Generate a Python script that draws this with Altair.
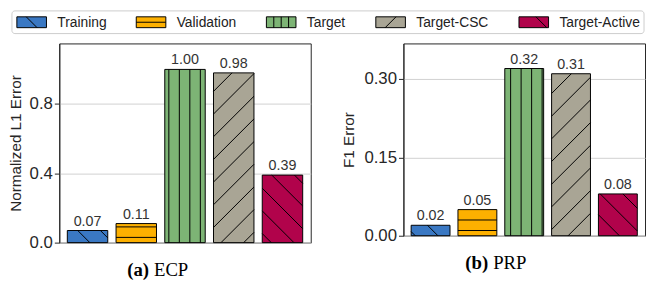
import altair as alt
import pandas as pd

# ---------------- data ----------------
series = ["Training", "Validation", "Target", "Target-CSC", "Target-Active"]
colors = ["#3a78c3", "#fdb000", "#7db475", "#a9a595", "#b1034b"]
hatch_kinds = ["\\", "-", "|", "/", "\\"]
ecp_values = [0.07, 0.11, 1.00, 0.98, 0.39]
prp_values = [0.02, 0.05, 0.32, 0.31, 0.08]
ecp_ticks = [0.0, 0.4, 0.8]
prp_ticks = [0.0, 0.15, 0.30]
ecp_ymax = 1.15
prp_ymax = 0.368
y_titles = ["Normalized L1 Error", "F1 Error"]
caption_tags = ["(a)", "(b)"]
caption_names = ["ECP", "PRP"]

# ---------------- layout constants ----------------
XMIN, XMAX = -0.58, 4.58
HALF = 0.415
ORTHO = 10.65
DIAG = 23.0
FONT = "Liberation Sans"
SERIF = "Liberation Serif"
INK = "#262626"
TITLE_FS = 15.5

# Helvetica advance widths (1/1000 em) used to lay out the legend row
HELV = {"T": 611, "r": 333, "a": 556, "i": 222, "n": 556, "g": 556, "V": 667,
        "l": 222, "d": 556, "t": 278, "o": 556, "e": 556, "-": 333, "C": 722,
        "S": 667, "A": 667, "c": 500, "v": 500}


def text_w(s, size):
    return sum(HELV.get(ch, 556) for ch in s) / 1000.0 * size


def hatch_rows(values, ymax, W, H, phases):
    rows = []
    sx = W / (XMAX - XMIN)
    sy = H / ymax
    for i, (v, kind) in enumerate(zip(values, hatch_kinds)):
        a = (i - HALF - XMIN) * sx
        b = (i + HALF - XMIN) * sx
        h = v * sy
        segs = []
        if kind == "-":
            p = phases["-"]
            while p < h - 0.5:
                segs.append((a, p, b, p))
                p += ORTHO
        elif kind == "|":
            p = phases["|"]
            while p < b - 0.5:
                if p > a + 0.5:
                    segs.append((p, 0.0, p, h))
                p += ORTHO
        else:
            for k in range(-40, 60):
                c = phases[kind] + k * DIAG
                if kind == "/":
                    s, e = max(0.0, a - c), min(h, b - c)
                    if e - s > 0.5:
                        segs.append((s + c, s, e + c, e))
                else:
                    s, e = max(0.0, c - b), min(h, c - a)
                    if e - s > 0.5:
                        segs.append((c - s, s, c - e, e))
        for (x0, y0, x1, y1) in segs:
            rows.append({"x": XMIN + x0 / sx, "x2": XMIN + x1 / sx,
                         "y": y0 / sy, "y2": y1 / sy})
    return pd.DataFrame(rows)


cscale = alt.Scale(domain=series, range=colors)


def panel(k, values, ymax, ticks, fmt, W, H, phases, cap_x, cap_y, title_x, lift):
    xs = alt.Scale(domain=[XMIN, XMAX], nice=False, zero=False)
    ys = alt.Scale(domain=[0, ymax], nice=False, zero=False)
    yaxis = alt.Axis(values=ticks, format=fmt, title=y_titles[k], grid=True,
                     titleX=title_x)
    df = pd.DataFrame({
        "series": series,
        "v": values,
        "xc": list(range(len(series))),
        "x0": [i - HALF for i in range(len(series))],
        "x1": [i + HALF for i in range(len(series))],
        "base": [0.0] * len(series),
        "label": [f"{v:.2f}" for v in values],
    })

    bars = alt.Chart(df).mark_rect(stroke="black", strokeWidth=1).encode(
        x=alt.X("x0:Q", scale=xs, axis=None),
        x2="x1:Q",
        y=alt.Y("v:Q", scale=ys, axis=yaxis, title=y_titles[k]),
        y2="base:Q",
        color=alt.Color("series:N", scale=cscale, legend=None),
    )
    hatch = alt.Chart(hatch_rows(values, ymax, W, H, phases)).mark_rule(
        color="black", strokeWidth=1
    ).encode(
        x=alt.X("x:Q", scale=xs, axis=None), x2="x2:Q",
        y=alt.Y("y:Q", scale=ys, axis=yaxis, title=y_titles[k]), y2="y2:Q",
    )
    labels = alt.Chart(df).mark_text(
        baseline="alphabetic", dy=-5, font=FONT, fontSize=14.5, color="#333333"
    ).encode(
        x=alt.X("xc:Q", scale=xs, axis=None),
        y=alt.Y("v:Q", scale=ys, axis=yaxis, title=y_titles[k]),
        text="label:N",
    )
    cap_df = pd.DataFrame({"tag": [caption_tags[k]], "name": [caption_names[k]]})
    cap_tag = alt.Chart(cap_df).mark_text(
        align="right", baseline="alphabetic", font=SERIF, fontSize=19,
        fontWeight="bold", color="black"
    ).encode(x=alt.value(cap_x - 8), y=alt.value(cap_y), text="tag:N")
    cap_name = alt.Chart(cap_df).mark_text(
        align="left", baseline="alphabetic", font=SERIF, fontSize=19, color="black"
    ).encode(x=alt.value(cap_x - 3), y=alt.value(cap_y), text="name:N")

    layers = [bars, hatch, labels, cap_tag, cap_name]
    if lift > 0:
        # invisible spacer so this panel's frame starts lower, as in the reference
        spacer = alt.Chart(cap_df).mark_rule(color="white", strokeWidth=1).encode(
            x=alt.value(W / 2), y=alt.value(-lift), y2=alt.value(-lift + 1))
        layers.append(spacer)
    return alt.layer(*layers).properties(width=W, height=H)


# ---------------- panels ----------------
LEFT_W, LEFT_H = 255, 202
RIGHT_W, RIGHT_H = 245, 195
LEFT_X0 = 52  # the left plot starts this far right of the chart's left edge
left = panel(0, ecp_values, ecp_ymax, ecp_ticks, ".1f", LEFT_W, LEFT_H,
             {"-": 5.3, "|": 4.6, "/": 3.0, "\\": 8.0}, 99, 236,
             -(LEFT_X0 - TITLE_FS), 0)
right = panel(1, prp_values, prp_ymax, prp_ticks, ".2f", RIGHT_W, RIGHT_H,
              {"-": 5.3, "|": 2.2, "/": 6.0, "\\": 12.0}, 94, 229, -48, 7)

# ---------------- legend row (coordinates relative to the left plot's origin) ----
LEG_FS = 14
SYM_W, SYM_H = 30, 11
LH = 23
cy = LH / 2
sym_rows, hatch_leg, lab_rows = [], [], []
pos = -LEFT_X0 + 9.0
for name, kind in zip(series, hatch_kinds):
    x0, x1 = pos, pos + SYM_W
    cx = (x0 + x1) / 2
    yb, yt = cy - SYM_H / 2, cy + SYM_H / 2
    sym_rows.append({"series": name, "x0": x0, "x1": x1, "y0": yb, "y1": yt})
    if kind == "-":
        segs = [(x0, cy, x1, cy)]
    elif kind == "|":
        segs = [(cx + d, yb, cx + d, yt) for d in (-7.5, 0.0, 7.5)]
    elif kind == "/":
        segs = [(cx - SYM_H / 2, yb, cx + SYM_H / 2, yt)]
    elif name == series[0]:
        segs = [(cx - SYM_H / 2, yt, cx + SYM_H / 2, yb)]
    else:
        segs = [(cx + 2.2, yt, cx + 2.2 + SYM_H, yb)]
    for (a, b, c, d) in segs:
        hatch_leg.append({"x": a, "y": b, "x2": c, "y2": d})
    lab_rows.append({"series": name, "lx": x1 + 11, "ym": cy})
    pos = x1 + 11 + text_w(name, LEG_FS) + 29.5

frame_x0 = -LEFT_X0 + 4
frame_x1 = frame_x0 + 641
frame_df = pd.DataFrame({"fx0": [frame_x0], "fx1": [frame_x1],
                         "fy0": [0.0], "fy1": [float(LH)]})
lxs = alt.Scale(domain=[frame_x0, frame_x1], range=[frame_x0, frame_x1],
                nice=False, zero=False)
lys = alt.Scale(domain=[0, LH], range=[LH, 0], nice=False, zero=False)
leg_frame = alt.Chart(frame_df).mark_rect(
    fill="white", stroke="#cccccc", strokeWidth=1, cornerRadius=3
).encode(
    x=alt.X("fx0:Q", scale=lxs, axis=None), x2="fx1:Q",
    y=alt.Y("fy0:Q", scale=lys, axis=None), y2="fy1:Q",
)
leg_sym = alt.Chart(pd.DataFrame(sym_rows)).mark_rect(
    stroke="black", strokeWidth=1
).encode(
    x=alt.X("x0:Q", scale=lxs, axis=None), x2="x1:Q",
    y=alt.Y("y0:Q", scale=lys, axis=None), y2="y1:Q",
    fill=alt.Fill("series:N", scale=cscale, legend=None),
)
leg_hatch = alt.Chart(pd.DataFrame(hatch_leg)).mark_rule(
    color="black", strokeWidth=1
).encode(
    x=alt.X("x:Q", scale=lxs, axis=None), x2="x2:Q",
    y=alt.Y("y:Q", scale=lys, axis=None), y2="y2:Q",
)
leg_txt = alt.Chart(pd.DataFrame(lab_rows)).mark_text(
    align="left", baseline="middle", font=FONT, fontSize=LEG_FS, color="#222222", dy=0.5
).encode(
    x=alt.X("lx:Q", scale=lxs, axis=None),
    y=alt.Y("ym:Q", scale=lys, axis=None),
    text="series:N",
)
legend_row = alt.layer(leg_frame, leg_sym, leg_hatch, leg_txt).properties(
    width=200, height=LH,
    view=alt.ViewBackground(stroke="transparent", strokeWidth=0),
)

plots = alt.hconcat(left, right, spacing=29).resolve_scale(
    x="independent", y="independent")

chart = alt.vconcat(legend_row, plots, spacing=1).resolve_scale(
    x="independent", y="independent"
).properties(
    padding={"left": 0, "top": 0, "right": 0, "bottom": 0}
).configure_view(
    stroke=INK, strokeWidth=1
).configure_axis(
    labelFont=FONT, labelFontSize=17, labelColor=INK, labelPadding=2,
    titleFont=FONT, titleFontSize=TITLE_FS, titleFontWeight="normal", titleColor=INK,
    tickColor=INK, tickSize=5, tickWidth=1,
    domainColor=INK, domainWidth=1, gridColor="#d0d0d0", gridWidth=1,
)

chart.save("out.html", embed_options={"renderer": "svg", "actions": False})
